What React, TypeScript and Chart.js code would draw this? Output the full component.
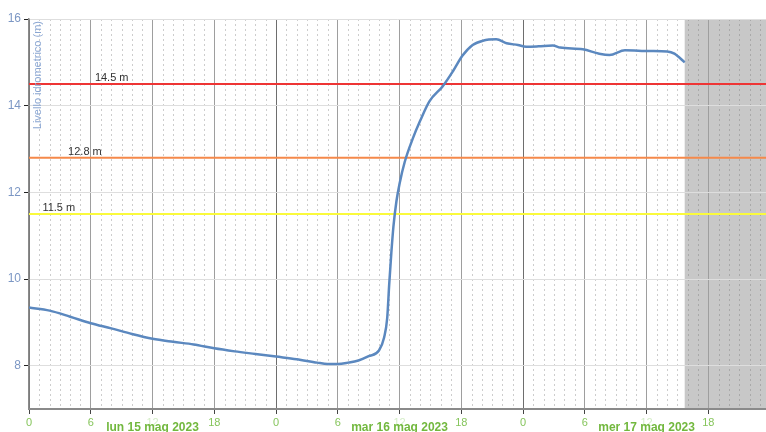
import React, { useEffect, useRef } from 'react';
import { Chart, registerables } from 'chart.js';

Chart.register(...registerables);

// Hours since 00:00 of Mon 15 May 2023
const hours = [
  0, 2, 4, 6, 8, 10, 12, 14, 16, 18, 20, 22, 24, 26, 28, 29, 30, 31, 32, 33, 34,
  34.5, 34.8, 35.0, 35.2, 35.4, 35.7, 36.0, 36.5, 37.3, 38.0, 38.9, 40.2, 41.2,
  42.1, 43.1, 44.1, 45.4, 46.4, 47.5, 48.3, 49.5, 50.9, 51.6, 53.8, 55.4, 56.4,
  57.9, 60.3, 62.0, 62.7, 63.7,
];
// Water level (m)
const levels = [
  9.34, 9.27, 9.13, 8.98, 8.86, 8.73, 8.62, 8.55, 8.49, 8.4, 8.33, 8.27, 8.21,
  8.15, 8.07, 8.04, 8.04, 8.07, 8.12, 8.22, 8.35,
  8.65, 9.1, 9.9, 10.6, 11.2, 11.8, 12.2, 12.7, 13.25, 13.65, 14.1, 14.45, 14.8,
  15.15, 15.4, 15.5, 15.53, 15.44, 15.4, 15.36, 15.37, 15.39, 15.34, 15.3, 15.2,
  15.17, 15.28, 15.26, 15.25, 15.2, 15.0,
];

const thresholdValues = [14.5, 12.8, 11.5];
const thresholdLabels = ['14.5 m', '12.8 m', '11.5 m'];
const yTickValues = [8, 10, 12, 14, 16];
const xTickHours = [0, 6, 12, 18, 24, 30, 36, 42, 48, 54, 60, 66];
const dayLabels = ['lun 15 mag 2023', 'mar 16 mag 2023', 'mer 17 mag 2023'];
const forecastStartHour = 63.7;
const yAxisTitle = 'Livello idrometrico (m)';

// styling / layout constants
const X_MAX = 71.6;
const Y_MIN = 7;
const Y_MAX = 16;
const thresholdColors = ['#ee3535', '#f5894a', '#fafa3c'];
const thresholdLabelStartHours = [6.4, 3.8, 1.3];
const FONT = '"Liberation Sans", Arial, sans-serif';
const GREEN = '#86c55c';
const GREEN_BOLD = '#72b83e';

const decor = {
  id: 'decor',
  beforeDraw(chart: any) {
    const { ctx, chartArea: a, scales } = chart;
    const x = scales.x;
    ctx.save();
    const sx = x.getPixelForValue(forecastStartHour);
    ctx.fillStyle = '#c8c8c8';
    ctx.fillRect(sx, a.top, a.right - sx, a.bottom - a.top);
    ctx.lineWidth = 1;
    ctx.setLineDash([2, 3]);
    for (let h = 1; h < X_MAX; h++) {
      if (h % 6 === 0) continue;
      const px = Math.round(x.getPixelForValue(h)) + 0.5;
      ctx.strokeStyle = px > sx ? '#a9a9a9' : '#cdcdcd';
      ctx.beginPath();
      ctx.moveTo(px, a.top);
      ctx.lineTo(px, a.bottom);
      ctx.stroke();
    }
    ctx.restore();
  },
  beforeDatasetsDraw(chart: any) {
    const { ctx, chartArea: a, scales } = chart;
    ctx.save();
    thresholdValues.forEach((v, i) => {
      const py = scales.y.getPixelForValue(v);
      ctx.strokeStyle = thresholdColors[i];
      ctx.lineWidth = 2;
      ctx.beginPath();
      ctx.moveTo(a.left, py);
      ctx.lineTo(a.right, py);
      ctx.stroke();
    });
    ctx.restore();
  },
  afterDatasetsDraw(chart: any) {
    const { ctx, chartArea: a, scales } = chart;
    ctx.save();
    ctx.font = `11px ${FONT}`;
    ctx.fillStyle = '#333';
    ctx.textAlign = 'left';
    ctx.textBaseline = 'bottom';
    thresholdValues.forEach((v, i) => {
      const py = scales.y.getPixelForValue(v);
      ctx.fillText(thresholdLabels[i], scales.x.getPixelForValue(thresholdLabelStartHours[i]), py - 0.5);
    });
    ctx.translate(a.left + 9, a.top + 2);
    ctx.rotate(-Math.PI / 2);
    ctx.textAlign = 'right';
    ctx.textBaseline = 'middle';
    ctx.fillStyle = '#8aa6d2';
    ctx.fillText(yAxisTitle, 0, 0);
    ctx.restore();
  },
  afterDraw(chart: any) {
    const { ctx, scales } = chart;
    ctx.save();
    ctx.font = `bold 12px ${FONT}`;
    ctx.fillStyle = GREEN_BOLD;
    ctx.textAlign = 'center';
    ctx.textBaseline = 'alphabetic';
    dayLabels.forEach((t, i) => {
      ctx.fillText(t, scales.x.getPixelForValue(12 + 24 * i), chart.height - 1);
    });
    ctx.restore();
  },
};

export default function App() {
  const ref = useRef<HTMLCanvasElement | null>(null);
  useEffect(() => {
    if (!ref.current) return;
    const data = hours.map((h, i) => ({ x: h, y: levels[i] }));
    const chart = new Chart(ref.current, {
      type: 'line',
      data: {
        datasets: [
          {
            data,
            borderColor: '#5b88bf',
            borderWidth: 2.5,
            pointRadius: 0,
            cubicInterpolationMode: 'monotone',
            fill: false,
          },
        ],
      },
      options: {
        animation: false,
        responsive: true,
        maintainAspectRatio: false,
        layout: { padding: { top: 19, right: 0, left: 0, bottom: 0 } },
        plugins: { legend: { display: false }, tooltip: { enabled: false } },
        scales: {
          x: {
            type: 'linear',
            min: 0,
            max: X_MAX,
            afterBuildTicks: (s: any) => {
              s.ticks = xTickHours.map((v) => ({ value: v }));
            },
            afterFit: (s: any) => {
              s.height = 23;
            },
            ticks: {
              autoSkip: false,
              maxRotation: 0,
              padding: 2,
              font: { size: 11, family: FONT },
              color: (c: any) => (c.tick && c.tick.value % 24 === 12 ? 'rgba(160,215,130,0.45)' : GREEN),
              callback: (v: any) => String(Number(v) % 24),
            },
            grid: {
              color: (c: any) => (c.tick && c.tick.value % 24 === 0 ? '#6e6e6e' : '#9e9e9e'),
              tickColor: '#444',
              tickLength: 5,
              lineWidth: 1,
            },
            border: { color: '#8a8a8a', width: 2 },
          },
          y: {
            min: Y_MIN,
            max: Y_MAX,
            afterBuildTicks: (s: any) => {
              s.ticks = yTickValues.map((v) => ({ value: v }));
            },
            afterFit: (s: any) => {
              s.width = 29;
            },
            ticks: {
              padding: 3,
              font: { size: 12, family: FONT },
              color: '#7c97c4',
            },
            grid: {
              color: '#dedede',
              tickColor: '#222',
              tickLength: 5,
            },
            border: { color: '#8a8a8a', width: 1.5 },
          },
        },
      },
      plugins: [decor],
    } as any);
    return () => chart.destroy();
  }, []);
  return (
    <div style={{ position: 'fixed', left: 0, top: 0, width: 766, height: 432 }}>
      <canvas ref={ref} />
    </div>
  );
}
